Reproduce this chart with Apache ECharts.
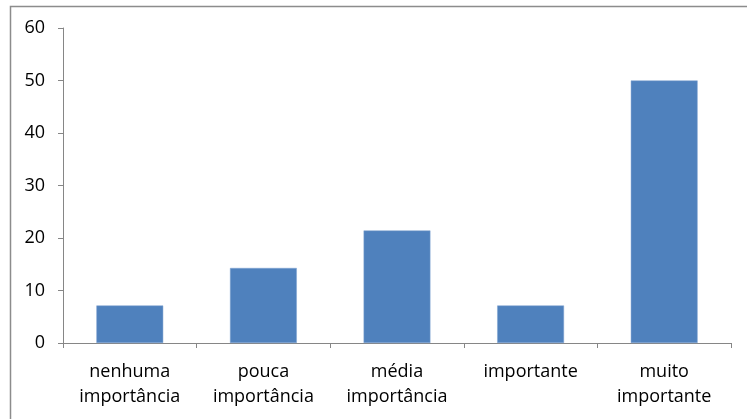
<!DOCTYPE html>
<html>
<head>
<meta charset="utf-8">
<script src="https://cdn.jsdelivr.net/npm/echarts@6/dist/echarts.min.js"></script>
<style>
html,body{margin:0;padding:0;background:#fff;}
#c{width:747px;height:419px;}
</style>
</head>
<body>
<div id="c"></div>
<script>
const categories = ["nenhuma\nimportância", "pouca\nimportância", "média\nimportância", "importante", "muito\nimportante"];
const values = [7.14, 14.29, 21.43, 7.14, 50];
const yTicks = [0, 10, 20, 30, 40, 50, 60];

const chart = echarts.init(document.getElementById('c'));
chart.setOption({
  animation: false,
  backgroundColor: '#fff',
  graphic: [{
    type: 'rect',
    shape: {x: 10.5, y: 6.5, width: 800, height: 500},
    style: {fill: 'none', stroke: '#8c8c8c', lineWidth: 1.5},
    silent: true
  }],
  grid: {left: 63, right: 16, top: 28, bottom: 76, containLabel: false},
  xAxis: {
    type: 'category',
    data: categories,
    axisLine: {lineStyle: {color: '#868686', width: 1}},
    axisTick: {show: true, alignWithLabel: false, length: 5, lineStyle: {color: '#868686'}},
    axisLabel: {color: '#000', fontFamily: 'Open Sans', fontSize: 18, lineHeight: 25, margin: 16, interval: 0}
  },
  yAxis: {
    type: 'value',
    min: yTicks[0],
    max: yTicks[yTicks.length - 1],
    interval: 10,
    axisLine: {show: true, lineStyle: {color: '#868686', width: 1}},
    axisTick: {show: true, length: 5, lineStyle: {color: '#868686'}},
    splitLine: {show: false},
    axisLabel: {color: '#000', fontFamily: 'Open Sans', fontSize: 18, margin: 18}
  },
  series: [{
    type: 'bar',
    data: values,
    barWidth: '50%',
    itemStyle: {color: '#4F81BD', borderColor: '#7fa3d0', borderWidth: 0.5}
  }]
});
</script>
</body>
</html>
